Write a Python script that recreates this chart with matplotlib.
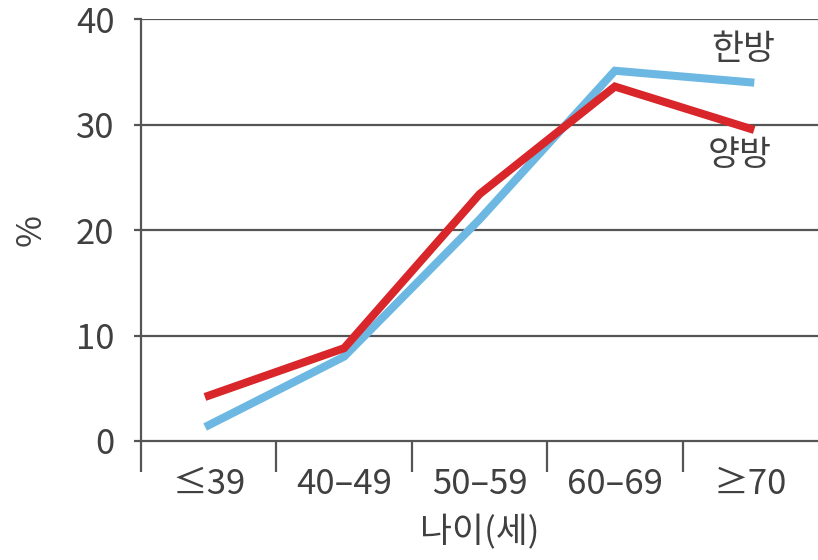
import matplotlib
matplotlib.use("Agg")
import matplotlib.pyplot as plt
import numpy as np

plt.rcParams['font.family'] = ['Noto Sans CJK KR', 'DejaVu Sans']

ages = ["≤39", "40–49", "50–59", "60–69", "≥70"]
hanbang = [1.5, 8.0, 21.0, 35.1, 34.0]   # 한방
yangbang = [4.3, 8.8, 23.4, 33.6, 29.6]  # 양방

txt = "#404040"
grid = "#555555"

fig = plt.figure(figsize=(8.18, 5.6), dpi=100)
ax = fig.add_axes([0.1724, 0.2125, 0.8276, 0.7535])

x = np.arange(len(ages))
ax.plot(x, hanbang, color="#6cb8e2", lw=5.8, solid_joinstyle="miter", zorder=3)
ax.plot(x, yangbang, color="#d8262a", lw=5.8, solid_joinstyle="miter", zorder=4)

ax.set_xlim(-0.5, 4.5)
ax.set_ylim(0, 40)

ax.set_yticks([0, 10, 20, 30, 40])
for v in [10, 20, 30, 40]:
    ax.axhline(v, color=grid, lw=1.6, zorder=1)

ax.set_xticks(x)
ax.set_xticklabels(ages)
ax.set_xticks(np.arange(-0.5, 4, 1), minor=True)
ax.tick_params(axis="x", which="major", length=0, pad=19, labelsize=25, labelcolor=txt)
ax.tick_params(axis="x", which="minor", length=22, width=1.6, color=grid, direction="out")
ax.tick_params(axis="y", length=5, width=1.6, color=grid, pad=14, labelsize=25, labelcolor=txt)

for s in ["top", "right"]:
    ax.spines[s].set_visible(False)
for s in ["left", "bottom"]:
    ax.spines[s].set_color(grid)
    ax.spines[s].set_linewidth(1.6)

ax.set_xlabel("나이(세)", fontsize=25, color=txt, labelpad=9)
ax.set_ylabel("%", fontsize=25, color=txt, labelpad=20)

ax.text(3.95, 37.1, "한방", fontsize=25, color=txt, ha="center", va="center")
ax.text(3.92, 27.1, "양방", fontsize=25, color=txt, ha="center", va="center")

fig.savefig("out.png", dpi=100)
